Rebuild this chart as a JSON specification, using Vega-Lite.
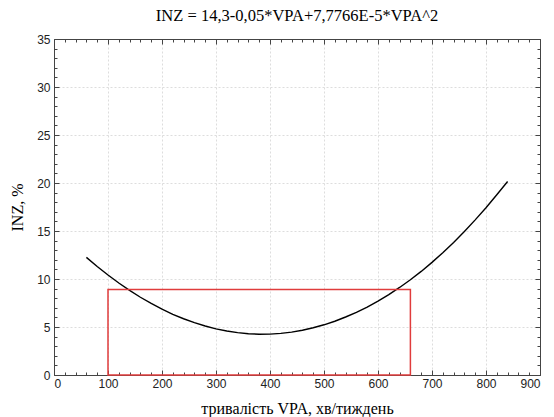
{
  "$schema": "https://vega.github.io/schema/vega-lite/v6.json",
  "width": 486,
  "height": 336,
  "autosize": "none",
  "padding": {"left": 54, "top": 39, "right": 14, "bottom": 42},
  "background": "white",
  "title": {
    "text": "INZ = 14,3-0,05*VPA+7,7766E-5*VPA^2",
    "font": "Liberation Serif",
    "fontSize": 16.5,
    "fontWeight": "normal",
    "color": "black",
    "offset": 9
  },
  "config": {
    "view": {"stroke": "#444444", "strokeWidth": 1},
    "axis": {
      "domainColor": "#444444",
      "tickColor": "#444444",
      "labelFont": "Liberation Sans",
      "labelFontSize": 12,
      "labelColor": "#222222",
      "titleFont": "Liberation Serif",
      "titleFontWeight": "normal",
      "titleColor": "black",
      "titleFontSize": 16
    }
  },
  "datasets": {
    "curve": [
      {"VPA": 60, "INZ": 12.25}, {"VPA": 80, "INZ": 11.30}, {"VPA": 100, "INZ": 10.41},
      {"VPA": 120, "INZ": 9.58}, {"VPA": 140, "INZ": 8.81}, {"VPA": 160, "INZ": 8.10},
      {"VPA": 180, "INZ": 7.45}, {"VPA": 200, "INZ": 6.86}, {"VPA": 220, "INZ": 6.32},
      {"VPA": 240, "INZ": 5.86}, {"VPA": 260, "INZ": 5.45}, {"VPA": 280, "INZ": 5.10},
      {"VPA": 300, "INZ": 4.81}, {"VPA": 320, "INZ": 4.58}, {"VPA": 340, "INZ": 4.41},
      {"VPA": 360, "INZ": 4.30}, {"VPA": 380, "INZ": 4.25}, {"VPA": 400, "INZ": 4.26},
      {"VPA": 420, "INZ": 4.34}, {"VPA": 440, "INZ": 4.47}, {"VPA": 460, "INZ": 4.66},
      {"VPA": 480, "INZ": 4.92}, {"VPA": 500, "INZ": 5.23}, {"VPA": 520, "INZ": 5.60},
      {"VPA": 540, "INZ": 6.04}, {"VPA": 560, "INZ": 6.53}, {"VPA": 580, "INZ": 7.08},
      {"VPA": 600, "INZ": 7.70}, {"VPA": 620, "INZ": 8.37}, {"VPA": 640, "INZ": 9.12},
      {"VPA": 660, "INZ": 9.92}, {"VPA": 680, "INZ": 10.79}, {"VPA": 700, "INZ": 11.73},
      {"VPA": 720, "INZ": 12.74}, {"VPA": 740, "INZ": 13.81}, {"VPA": 760, "INZ": 14.95},
      {"VPA": 780, "INZ": 16.16}, {"VPA": 800, "INZ": 17.43}, {"VPA": 820, "INZ": 18.77},
      {"VPA": 840, "INZ": 20.16}
    ],
    "box": [{"x1": 100, "x2": 660, "y1": 0, "y2": 8.9}]
  },
  "resolve": {"axis": {"x": "independent", "y": "independent"}},
  "layer": [
    {
      "data": {"name": "curve"},
      "mark": {"type": "line", "color": "black", "strokeWidth": 1.4},
      "encoding": {
        "x": {
          "field": "VPA", "type": "quantitative",
          "scale": {"domain": [0, 900], "nice": false, "zero": false},
          "axis": {
            "values": [0, 100, 200, 300, 400, 500, 600, 700, 800, 900],
            "title": "тривалість VPA, хв/тиждень",
            "grid": true, "gridColor": "#dddddd", "gridDash": [2, 2],
            "tickSize": -5, "labelPadding": 8, "titlePadding": 11
          }
        },
        "y": {
          "field": "INZ", "type": "quantitative",
          "scale": {"domain": [0, 35], "nice": false, "zero": false},
          "axis": {
            "values": [0, 5, 10, 15, 20, 25, 30, 35],
            "title": "INZ, %",
            "grid": true, "gridColor": "#dddddd", "gridDash": [2, 2],
            "tickSize": -5, "labelPadding": 9, "titlePadding": 11
          }
        }
      }
    },
    {
      "data": {"name": "box"},
      "mark": {"type": "rect", "fill": null, "fillOpacity": 0, "stroke": "#e03c3c", "strokeWidth": 1.5},
      "encoding": {
        "x": {
          "field": "x1", "type": "quantitative",
          "axis": {
            "orient": "top", "values": [0, 100, 200, 300, 400, 500, 600, 700, 800, 900],
            "labels": false, "title": null, "grid": false, "tickSize": -5
          }
        },
        "x2": {"field": "x2"},
        "y": {
          "field": "y1", "type": "quantitative",
          "axis": {
            "orient": "right", "values": [0, 5, 10, 15, 20, 25, 30, 35],
            "labels": false, "title": null, "grid": false, "tickSize": -5
          }
        },
        "y2": {"field": "y2"}
      }
    },
    {
      "data": {"name": "box"},
      "mark": {"type": "point", "opacity": 0},
      "encoding": {
        "x": {
          "field": "x1", "type": "quantitative",
          "axis": {
            "orient": "bottom", "values": [20,40,60,80,120,140,160,180,220,240,260,280,320,340,360,380,420,440,460,480,520,540,560,580,620,640,660,680,720,740,760,780,820,840,860,880],
            "labels": false, "title": null, "grid": false, "tickSize": -3, "domain": false
          }
        },
        "y": {
          "field": "y1", "type": "quantitative",
          "axis": {
            "orient": "left", "values": [1,2,3,4,6,7,8,9,11,12,13,14,16,17,18,19,21,22,23,24,26,27,28,29,31,32,33,34],
            "labels": false, "title": null, "grid": false, "tickSize": -3, "domain": false
          }
        }
      }
    },
    {
      "data": {"name": "box"},
      "mark": {"type": "point", "opacity": 0},
      "encoding": {
        "x": {
          "field": "x2", "type": "quantitative",
          "axis": {
            "orient": "top", "values": [20,40,60,80,120,140,160,180,220,240,260,280,320,340,360,380,420,440,460,480,520,540,560,580,620,640,660,680,720,740,760,780,820,840,860,880],
            "labels": false, "title": null, "grid": false, "tickSize": -3, "domain": false
          }
        },
        "y": {
          "field": "y2", "type": "quantitative",
          "axis": {
            "orient": "right", "values": [1,2,3,4,6,7,8,9,11,12,13,14,16,17,18,19,21,22,23,24,26,27,28,29,31,32,33,34],
            "labels": false, "title": null, "grid": false, "tickSize": -3, "domain": false
          }
        }
      }
    }
  ]
}
